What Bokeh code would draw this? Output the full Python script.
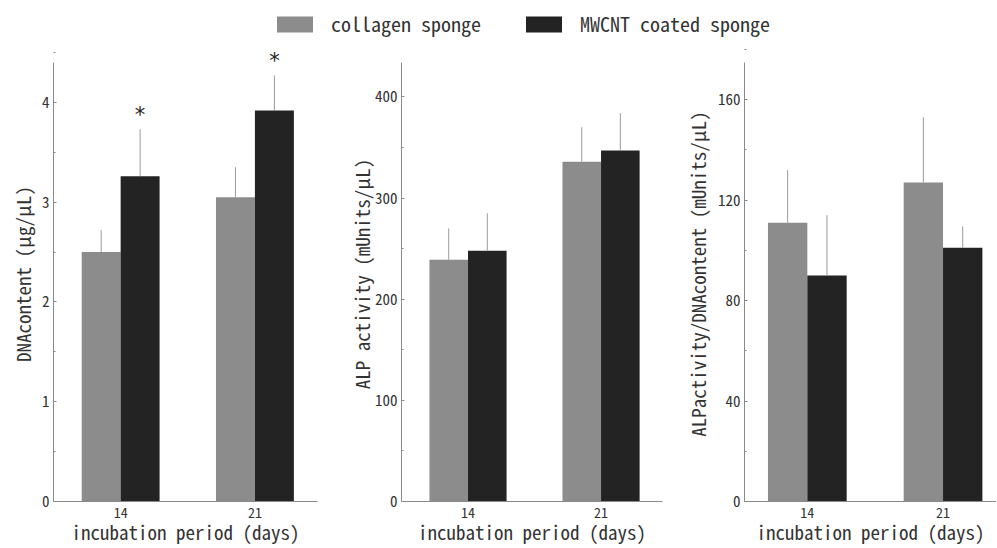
from bokeh.plotting import figure
from bokeh.layouts import column, row
from bokeh.models import (ColumnDataSource, Range1d, FixedTicker, LabelSet,
                          Legend, LegendItem)
from bokeh.transform import dodge
from bokeh.core.properties import value
from bokeh.embed import file_html
from bokeh.resources import INLINE

# ---------------- data ----------------
days = ["14", "21"]
series = ["collagen sponge", "MWCNT coated sponge"]

dna_collagen = [2.50, 3.05]
dna_collagen_sd = [0.22, 0.30]
dna_mwcnt = [3.26, 3.92]
dna_mwcnt_sd = [0.47, 0.35]
dna_sig = ["*", "*"]

alp_collagen = [239, 336]
alp_collagen_sd = [31, 34]
alp_mwcnt = [248, 347]
alp_mwcnt_sd = [37, 37]

ratio_collagen = [111, 127]
ratio_collagen_sd = [21, 26]
ratio_mwcnt = [90, 101]
ratio_mwcnt_sd = [24, 8.5]

y_titles = ["DNAcontent (μg/μL)", "ALP activity (mUnits/μL)",
            "ALPactivity/DNAcontent (mUnits/μL)"]
y_ticks = [[0, 1, 2, 3, 4], [0, 100, 200, 300, 400], [0, 40, 80, 120, 160]]
y_axis_max = [4.4, 434, 174.8]
x_title = "incubation period (days)"

# ---------------- style ----------------
FONT = "Noto Sans Mono CJK JP, DejaVu Sans Mono, monospace"
C_COLL = "#8c8c8c"
C_MW = "#232323"
C_ERR = "#9a9a9a"
C_AXIS = "#8a8a8a"
C_TEXT = "#333333"
BW = 0.29
LEG_H = 44
FIG_H = 503
AXIS_TOP = 18       # top of the y axis line, from the top of the figure
BORDER_TOP = 2
BORDER_BOTTOM = 46


def make_panel(coll, coll_sd, mw, mw_sd, ymax, ticks, ytitle, width,
               left, right, x_start, x_end, label_standoff, sig=None):
    xs = list(range(len(days)))
    data = dict(
        x=xs,
        c=coll, c_up=[v + s for v, s in zip(coll, coll_sd)],
        m=mw, m_up=[v + s for v, s in zip(mw, mw_sd)],
    )
    if sig is not None:
        data["sig"] = sig
    src = ColumnDataSource(data)
    frame_bottom = FIG_H - BORDER_BOTTOM
    ppu = (frame_bottom - AXIS_TOP) / ymax
    y_end = (frame_bottom - BORDER_TOP) / ppu
    p = figure(width=width, height=FIG_H, x_range=Range1d(x_start, x_end),
               y_range=Range1d(0, y_end), toolbar_location=None, title=None,
               output_backend="svg", min_border_left=left,
               min_border_right=right, min_border_top=BORDER_TOP,
               min_border_bottom=BORDER_BOTTOM)
    p.outline_line_color = None
    p.grid.visible = False
    p.background_fill_color = "white"

    xl = dodge("x", -BW / 2, range=p.x_range)
    xr = dodge("x", BW / 2, range=p.x_range)
    p.vbar(x=xl, top="c", bottom=0, width=BW, source=src,
           fill_color=C_COLL, line_color=None)
    p.vbar(x=xr, top="m", bottom=0, width=BW, source=src,
           fill_color=C_MW, line_color=None)
    p.segment(x0=xl, y0="c", x1=xl, y1="c_up", source=src,
              line_color=C_ERR, line_width=1)
    p.segment(x0=xr, y0="m", x1=xr, y1="m_up", source=src,
              line_color=C_ERR, line_width=1)
    if sig is not None:
        lab = LabelSet(x=xr, y="m_up", text="sig", source=src,
                       text_align="center", text_baseline="middle",
                       y_offset=14, text_font_size="21px",
                       text_color="#222222", text_font=value("DejaVu Sans"))
        p.add_layout(lab)

    # x axis
    xa = p.xaxis[0]
    xa.ticker = FixedTicker(ticks=xs)
    xa.major_label_overrides = {i: d for i, d in enumerate(days)}
    xa.major_tick_in = 0
    xa.major_tick_out = 0
    xa.minor_tick_in = 0
    xa.minor_tick_out = 0
    xa.axis_label = x_title
    xa.axis_label_text_font_style = "normal"
    xa.axis_label_text_font = FONT
    xa.axis_label_text_font_size = "19px"
    xa.axis_label_text_color = C_TEXT
    xa.axis_label_standoff = -3
    xa.major_label_text_font = FONT
    xa.major_label_text_font_size = "14px"
    xa.major_label_text_color = C_TEXT
    xa.major_label_standoff = 5
    xa.axis_line_color = C_AXIS

    # y axis
    ya = p.yaxis[0]
    ya.bounds = (0, ymax)
    ya.ticker = FixedTicker(ticks=ticks,
                            minor_ticks=[(a + b) / 2 for a, b in zip(ticks[:-1], ticks[1:])]
                            + [ticks[-1] + (ticks[1] - ticks[0]) / 2])
    ya.major_tick_in = 3
    ya.major_tick_out = 0
    ya.minor_tick_in = 2
    ya.minor_tick_out = 0
    ya.major_tick_line_color = C_AXIS
    ya.minor_tick_line_color = C_AXIS
    ya.axis_line_color = C_AXIS
    ya.axis_label = ytitle
    ya.axis_label_text_font_style = "normal"
    ya.axis_label_text_font = FONT
    ya.axis_label_text_font_size = "19px"
    ya.axis_label_text_color = C_TEXT
    ya.axis_label_standoff = label_standoff
    ya.major_label_text_font = FONT
    ya.major_label_text_font_size = "15px"
    ya.major_label_text_color = C_TEXT
    ya.major_label_standoff = 4
    return p


p1 = make_panel(dna_collagen, dna_collagen_sd, dna_mwcnt, dna_mwcnt_sd,
                y_axis_max[0], y_ticks[0], y_titles[0], 340, 53, 23,
                -0.5, 1.466, 3, sig=dna_sig)
p2 = make_panel(alp_collagen, alp_collagen_sd, alp_mwcnt, alp_mwcnt_sd,
                y_axis_max[1], y_ticks[1], y_titles[1], 340, 61, 18,
                -0.5, 1.462, -3)
p3 = make_panel(ratio_collagen, ratio_collagen_sd, ratio_mwcnt, ratio_mwcnt_sd,
                y_axis_max[2], y_ticks[2], y_titles[2], 316, 64, 0,
                -0.463, 1.394, 4)

# ---------------- legend strip ----------------
p0 = figure(width=996, height=LEG_H, x_range=Range1d(0, 1), y_range=Range1d(0, 1),
            toolbar_location=None, output_backend="svg", min_border=0,
            x_axis_type=None, y_axis_type=None, title=None)
p0.outline_line_color = None
p0.grid.visible = False
# zero-height bars: they only carry the legend swatch style
r_c = p0.vbar(x=[0], top=[0], bottom=[0], width=0.0, fill_color=C_COLL,
              line_color=None)
r_m = p0.vbar(x=[0], top=[0], bottom=[0], width=0.0, fill_color=C_MW,
              line_color=None)
legend = Legend(items=[LegendItem(label=series[0], renderers=[r_c]),
                       LegendItem(label=series[1], renderers=[r_m])],
                orientation="horizontal", location=(272, 6),
                glyph_width=45, glyph_height=20, label_standoff=14,
                spacing=40, padding=0, margin=0, border_line_color=None,
                background_fill_alpha=0, label_text_font=FONT,
                label_text_font_size="20px", label_text_color=C_TEXT)
p0.add_layout(legend)

layout = column(p0, row(p1, p2, p3))
open("out.html", "w").write(file_html(layout, INLINE))
